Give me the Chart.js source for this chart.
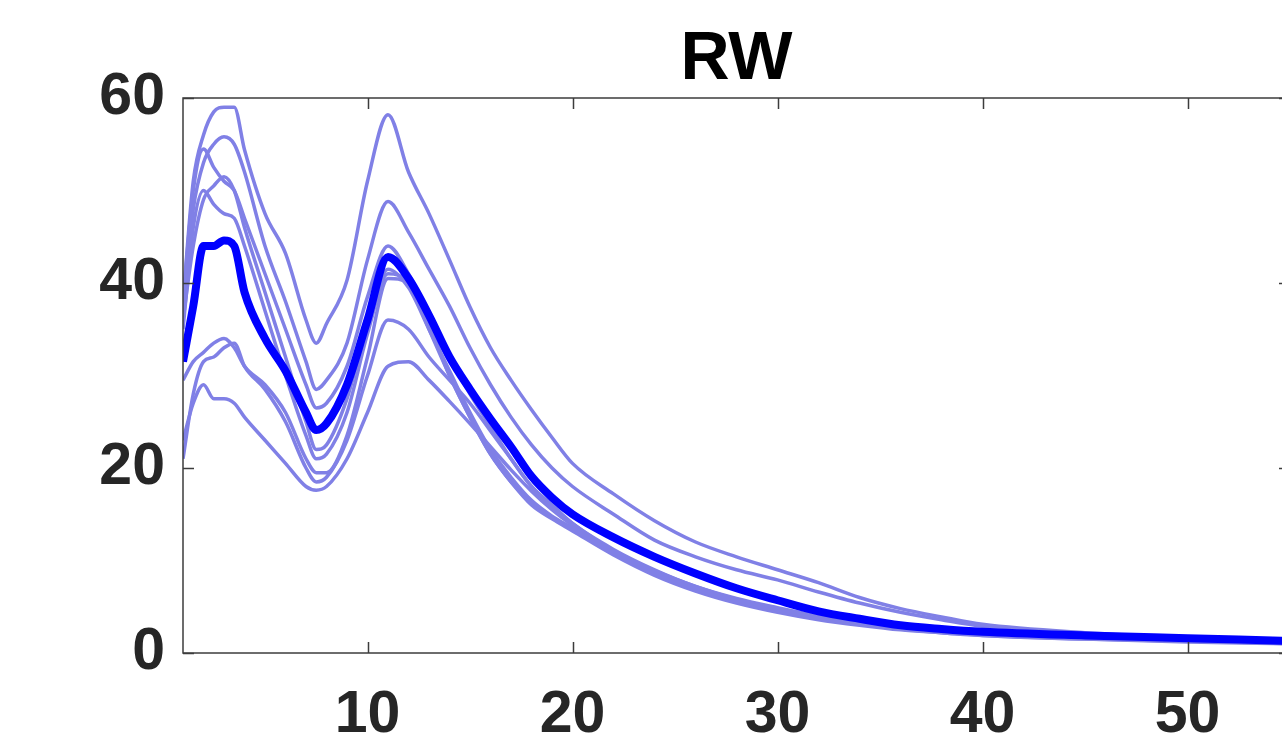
<!DOCTYPE html>
<html>
<head>
<meta charset="utf-8">
<title>RW</title>
<script src="https://cdn.jsdelivr.net/npm/chart.js@4.4.1/dist/chart.umd.min.js"></script>
<style>
  html, body { margin: 0; padding: 0; background: #fff; overflow: hidden; }
  #wrap { width: 1310px; height: 751px; }
</style>
</head>
<body>
<div id="wrap"><canvas id="rwChart" width="1310" height="751"></canvas></div>
<script>
// x positions (days) shared by every curve
const xValues = [1, 1.5, 2, 2.5, 3, 3.5, 4, 5, 6, 7, 7.5, 8, 9, 10, 11, 12, 13, 14, 15, 16, 17, 18, 19, 20,
                 22, 24, 26, 28, 30, 32, 34, 36, 38, 40, 45, 50, 55];

// individual runs (light lines)
const runA = [38, 51, 56, 58.5, 59, 59, 54.4, 47.5, 43.2, 36, 33.5, 35.6, 40.3, 51, 58.2, 52, 47.5, 42.5, 37.4, 33, 29.5, 26.3, 23.3, 20.5,
              17.2, 14.3, 12.0, 10.4, 9.0, 7.6, 6.0, 4.8, 3.9, 3.1, 2.2, 1.7, 1.4];
const runB = [37, 48, 53, 55, 55.8, 55, 52, 44, 38, 31.5, 28.5, 29.5, 33.5, 42.5, 48.8, 45.5, 41.5, 37.5, 33, 29, 25.5, 22.5, 20, 18,
              15, 12.2, 10.4, 9.0, 7.9, 6.6, 5.4, 4.4, 3.6, 2.9, 2.1, 1.6, 1.3];
const runC = [38, 50, 54.5, 52.5, 51, 50, 47, 41, 35, 29, 26.5, 27, 31, 38.5, 44, 41, 36.5, 32, 28, 24.5, 21, 18, 16, 14,
              11.2, 9.0, 7.2, 5.9, 4.9, 4.0, 3.3, 2.8, 2.4, 2.1, 1.7, 1.4, 1.2];
const runD = [36, 44, 49, 50.5, 51.5, 50, 46, 39, 32, 25, 22, 22.5, 27.5, 35.5, 41.5, 39.5, 35, 30.5, 26, 22, 19, 16.5, 14.8, 13.5,
              10.8, 8.6, 6.9, 5.6, 4.6, 3.8, 3.1, 2.6, 2.3, 2.0, 1.6, 1.3, 1.1];
const runE = [35, 46, 50, 48.5, 47.5, 47, 44, 37, 30, 23.5, 21, 21.5, 26, 34.5, 41, 40, 35.5, 30, 25.5, 21.5, 18.5, 16, 14.5, 13.2,
              10.6, 8.4, 6.7, 5.4, 4.4, 3.6, 3.0, 2.5, 2.2, 1.9, 1.5, 1.3, 1.0];
const runF = [29.5, 31.5, 32.5, 33.5, 34, 33, 31, 29, 26, 21, 19.5, 19.5, 23.5, 32, 40.5, 40, 35, 30, 25.5, 21.5, 18.5, 16.2, 14.6, 13.4,
              10.9, 8.7, 7.0, 5.7, 4.7, 3.9, 3.2, 2.7, 2.3, 2.0, 1.6, 1.3, 1.1];
const runG = [21, 28, 31.5, 32, 33, 33.5, 31, 28.5, 25, 20, 18.5, 19, 23, 30, 36, 35, 32, 29.5, 27, 24, 21, 18, 15.8, 14,
              11.0, 8.8, 7.1, 5.7, 4.6, 3.8, 3.1, 2.6, 2.2, 1.9, 1.5, 1.2, 1.0];
const runH = [23, 27, 29, 27.5, 27.5, 27, 25.5, 23, 20.5, 18, 17.6, 18, 21, 26, 31, 31.5, 29.5, 27.2, 24.8, 22.3, 19.8, 17.5, 15.5, 13.8,
              11.0, 8.9, 7.2, 5.8, 4.7, 3.9, 3.2, 2.7, 2.3, 2.0, 1.6, 1.3, 1.1];

// mean curve (thick line)
const meanRW = [31.5, 37.5, 44, 44, 44.6, 44, 39, 34, 30.5, 26, 24.1, 24.8, 29, 36, 42.8, 40.5, 36.5, 32, 28.5, 25.3, 22.3, 19.1, 16.8, 15,
                12.5, 10.4, 8.6, 7.0, 5.7, 4.5, 3.7, 3.0, 2.6, 2.3, 1.9, 1.6, 1.3];

const runs = [runA, runB, runC, runD, runE, runF, runG, runH];

const xTicks = [10, 20, 30, 40, 50];
const yTicks = [0, 20, 40, 60];
const titleText = 'RW';

const tickFont = { family: "'Liberation Sans', Arial, sans-serif", size: 59, weight: 'bold' };
const axisColor = '#262626';

function toPoints (ys) {
  return ys.map((y, i) => ({ x: xValues[i], y: y }));
}

// MATLAB style box with inward ticks + title
const boxPlugin = {
  id: 'boxPlugin',
  afterDatasetsDraw (chart) {
    const { ctx, chartArea, scales } = chart;
    const { left, right, top, bottom } = chartArea;
    const tl = 11;
    ctx.save();
    ctx.strokeStyle = '#3c3c3c';
    ctx.lineWidth = 1.5;
    ctx.strokeRect(left, top, right - left, bottom - top);
    ctx.beginPath();
    xTicks.forEach(v => {
      const px = Math.round(scales.x.getPixelForValue(v)) + 0.5;
      ctx.moveTo(px, bottom); ctx.lineTo(px, bottom - tl);
      ctx.moveTo(px, top); ctx.lineTo(px, top + tl);
    });
    yTicks.forEach(v => {
      const py = Math.round(scales.y.getPixelForValue(v)) + 0.5;
      ctx.moveTo(left, py); ctx.lineTo(left + tl, py);
      ctx.moveTo(right, py); ctx.lineTo(right - tl, py);
    });
    ctx.stroke();

    ctx.fillStyle = '#000';
    ctx.font = "bold 68px 'Liberation Sans', Arial, sans-serif";
    ctx.textAlign = 'center';
    ctx.textBaseline = 'alphabetic';
    ctx.fillText(titleText, (left + right) / 2, 79);
    ctx.restore();
  }
};

const datasets = [
  {
    label: 'mean',
    data: toPoints(meanRW),
    borderColor: '#0000ff',
    borderWidth: 8,
    pointRadius: 0,
    fill: false,
    cubicInterpolationMode: 'monotone',
  }
];
runs.forEach((r, i) => {
  datasets.push({
    label: 'run ' + (i + 1),
    data: toPoints(r),
    borderColor: '#8080e6',
    borderWidth: 3.5,
    pointRadius: 0,
    fill: false,
    cubicInterpolationMode: 'monotone',
  });
});

const ctx = document.getElementById('rwChart').getContext('2d');
window.rwChart = new Chart(ctx, {
  type: 'line',
  data: { datasets: datasets },
  options: {
    responsive: false,
    animation: false,
    layout: { padding: { top: 98, right: 20, left: 0, bottom: 0 } },
    plugins: {
      legend: { display: false },
      tooltip: { enabled: false },
      title: { display: false },
    },
    scales: {
      x: {
        type: 'linear',
        min: 1,
        max: 55,
        grid: { display: false },
        border: { display: false },
        ticks: { font: tickFont, color: axisColor, padding: 19, maxRotation: 0 },
        afterBuildTicks: s => { s.ticks = xTicks.map(v => ({ value: v })); },
        afterFit: s => { s.height = 98; },
      },
      y: {
        type: 'linear',
        min: 0,
        max: 60,
        grid: { display: false },
        border: { display: false },
        ticks: { font: tickFont, color: axisColor, padding: 10 },
        afterBuildTicks: s => { s.ticks = yTicks.map(v => ({ value: v })); },
        afterFit: s => { s.width = 183; },
      },
    },
  },
  plugins: [boxPlugin],
});
</script>
</body>
</html>
